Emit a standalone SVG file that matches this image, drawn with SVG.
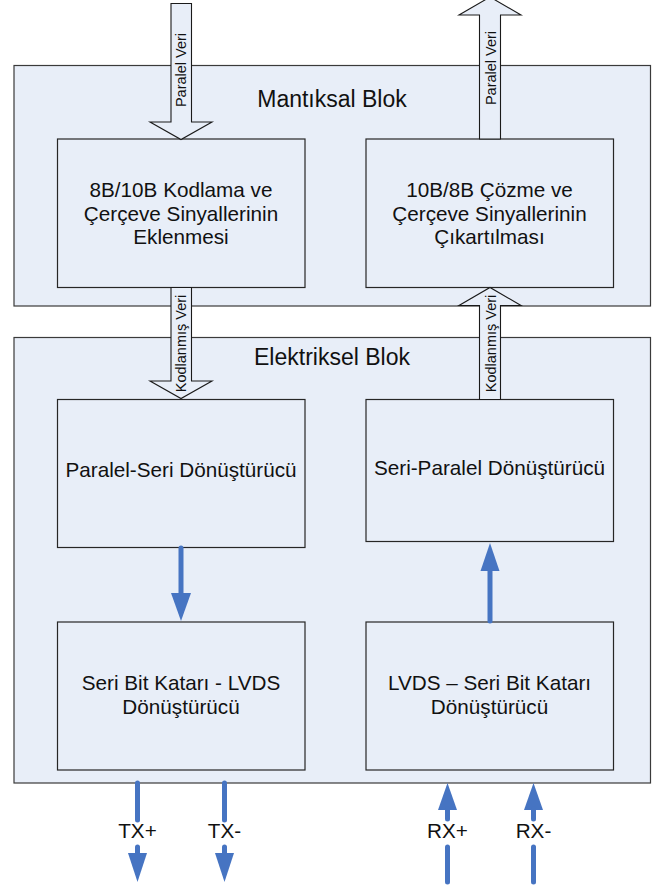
<svg xmlns="http://www.w3.org/2000/svg" width="660" height="888" viewBox="0 0 660 888">
  <defs>
    <style>
      .block { fill: #e8eef8; stroke: #3a3a3a; stroke-width: 1.2; }
      .unit { fill: #e8eef8; stroke: #262626; stroke-width: 1.2; }
      .bus { fill: #e8eef8; stroke: #1a1a1a; stroke-width: 1.1; stroke-linejoin: miter; }
      .title { font-family: "Liberation Sans", Arial, sans-serif; font-size: 23px; fill: #111; text-anchor: middle; }
      .label { font-family: "Liberation Sans", Arial, sans-serif; font-size: 20.7px; fill: #111; text-anchor: middle; }
      .buslabel { font-family: "Liberation Sans", Arial, sans-serif; font-size: 14.5px; fill: #111; text-anchor: middle; }
      .wire { stroke: #4674c2; stroke-width: 5; stroke-linecap: round; fill: none; }
      .head { fill: #4674c2; }
    </style>
  </defs>

  <rect width="660" height="888" fill="#ffffff"/>

  <!-- outer blocks -->
  <g id="mantiksal-blok">
    <rect class="block" x="14" y="65.5" width="636.5" height="240.5"/>
    <text class="title" x="332" y="107">Mantıksal Blok</text>
  </g>
  <g id="elektriksel-blok">
    <rect class="block" x="14" y="337.5" width="636.5" height="445.5"/>
    <text class="title" x="332" y="365">Elektriksel Blok</text>
  </g>

  <!-- functional units -->
  <g id="kodlama">
    <rect class="unit" x="57.5" y="139" width="247.5" height="148.5"/>
    <text class="label" x="181" y="197">8B/10B Kodlama ve</text>
    <text class="label" x="181" y="220.5">Çerçeve Sinyallerinin</text>
    <text class="label" x="181" y="244">Eklenmesi</text>
  </g>
  <g id="cozme">
    <rect class="unit" x="366" y="139" width="247.5" height="148.5"/>
    <text class="label" x="489.5" y="197">10B/8B Çözme ve</text>
    <text class="label" x="489.5" y="220.5">Çerçeve Sinyallerinin</text>
    <text class="label" x="489.5" y="244">Çıkartılması</text>
  </g>
  <g id="paralel-seri">
    <rect class="unit" x="57.5" y="399.5" width="247.5" height="148"/>
    <text class="label" x="181" y="477">Paralel-Seri Dönüştürücü</text>
  </g>
  <g id="seri-paralel">
    <rect class="unit" x="366" y="399.5" width="247.5" height="142"/>
    <text class="label" x="489.5" y="475">Seri-Paralel Dönüştürücü</text>
  </g>
  <g id="tx-surucu">
    <rect class="unit" x="57.5" y="622" width="247.5" height="148"/>
    <text class="label" x="181" y="690">Seri Bit Katarı - LVDS</text>
    <text class="label" x="181" y="714">Dönüştürücü</text>
  </g>
  <g id="rx-alici">
    <rect class="unit" x="366" y="622" width="247.5" height="148"/>
    <text class="label" x="489.5" y="690">LVDS – Seri Bit Katarı</text>
    <text class="label" x="489.5" y="714">Dönüştürücü</text>
  </g>

  <g id="connectors">
    <!-- wide data buses -->
    <path class="bus" d="M171,3.5 H191.5 V122 H212 L181,139.5 L150,122 H171 Z"/>
    <path class="bus" d="M479.5,139 V15 H459 L490,-3 L521,15 H500.5 V139 Z"/>
    <path class="bus" d="M171,287.5 H191.5 V381 H212 L181,398.5 L150,381 H171 Z"/>
    <path class="bus" d="M479.5,399.5 V305.5 H459 L490,287.5 L521,305.5 H500.5 V399.5 Z"/>
    <text class="buslabel" transform="translate(186,70) rotate(-90)">Paralel Veri</text>
    <text class="buslabel" transform="translate(495.5,68) rotate(-90)">Paralel Veri</text>
    <text class="buslabel" transform="translate(186,343.5) rotate(-90)">Kodlanmış Veri</text>
    <text class="buslabel" transform="translate(495.5,343.5) rotate(-90)">Kodlanmış Veri</text>

    <!-- serial links between units -->
    <line class="wire" x1="181" y1="548" x2="181" y2="594"/>
    <polygon class="head" points="171,593 191,593 181,621"/>
    <line class="wire" x1="490" y1="621" x2="490" y2="570"/>
    <polygon class="head" points="480.5,571 499.5,571 490,543"/>

    <!-- differential pins -->
    <line class="wire" x1="137.5" y1="783" x2="137.5" y2="820"/>
    <line class="wire" x1="137.5" y1="847" x2="137.5" y2="854"/>
    <polygon class="head" points="128,853 147,853 137.5,882"/>
    <text class="label" x="137.5" y="838">TX+</text>

    <line class="wire" x1="224.5" y1="783" x2="224.5" y2="820"/>
    <line class="wire" x1="224.5" y1="847" x2="224.5" y2="854"/>
    <polygon class="head" points="215,853 234,853 224.5,882"/>
    <text class="label" x="224.5" y="838">TX-</text>

    <polygon class="head" points="438,810 457,810 447.5,783"/>
    <line class="wire" x1="447.5" y1="809" x2="447.5" y2="819"/>
    <line class="wire" x1="447.5" y1="847" x2="447.5" y2="882"/>
    <text class="label" x="447.5" y="838">RX+</text>

    <polygon class="head" points="524,810 543,810 533.5,783"/>
    <line class="wire" x1="533.5" y1="809" x2="533.5" y2="819"/>
    <line class="wire" x1="533.5" y1="847" x2="533.5" y2="882"/>
    <text class="label" x="533.5" y="838">RX-</text>
  </g>
</svg>
